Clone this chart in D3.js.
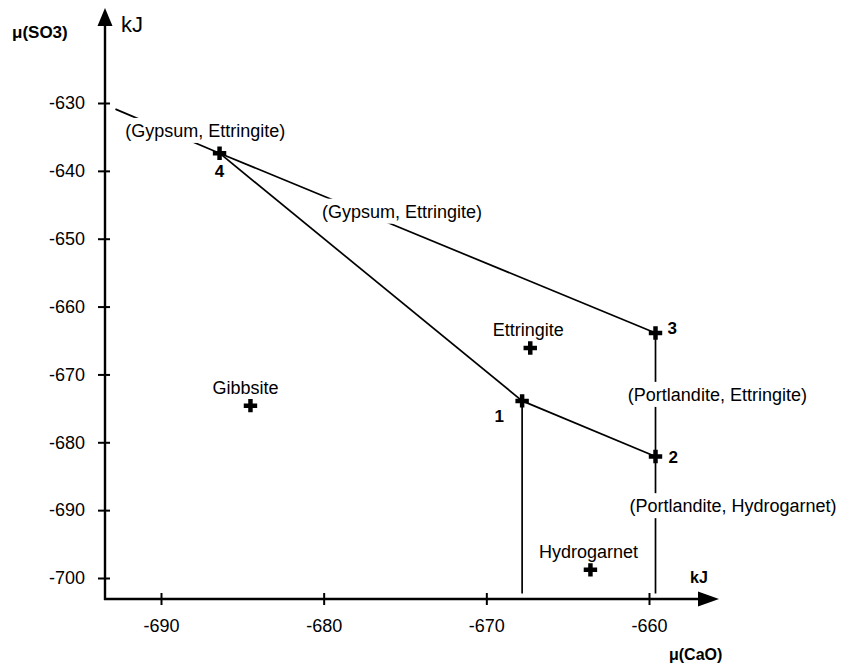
<!DOCTYPE html>
<html>
<head>
<meta charset="utf-8">
<script src="https://d3js.org/d3.v7.min.js"></script>
<style>
  body { margin: 0; background: #fff; }
  svg text { font-family: Arial, "Liberation Sans", sans-serif; fill: #000; }
</style>
</head>
<body>
<div id="chart"></div>
<script>
// invariant points
const pointNames = ["1", "2", "3", "4"];
const pointCaO = [-667.8, -659.6, -659.6, -686.4];
const pointSO3 = [-673.9, -682.1, -663.9, -637.4];

// stable phases
const phaseNames = ["Ettringite", "Gibbsite", "Hydrogarnet"];
const phaseCaO = [-667.3, -684.5, -663.6];
const phaseSO3 = [-666.1, -674.6, -698.8];

// phase boundaries (segments, start / end)
const lineCaO = [[-692.8, -686.4], [-686.4, -659.6], [-686.4, -667.8], [-667.8, -659.6], [-667.8, -667.8], [-659.6, -659.6]];
const lineSO3 = [[-630.9, -637.4], [-637.4, -663.9], [-637.4, -673.9], [-673.9, -682.1], [-673.9, -702.3], [-663.9, -702.3]];

// boundary labels (left edge, baseline)
const boundaryNames = ["(Gypsum, Ettringite)", "(Gypsum, Ettringite)", "(Portlandite, Ettringite)", "(Portlandite, Hydrogarnet)"];
const boundaryCaO = [-692.2, -680.1, -661.3, -661.2];
const boundarySO3 = [-635.0, -646.9, -673.9, -690.3];

const xTicks = [-690, -680, -670, -660];
const yTicks = [-700, -690, -680, -670, -660, -650, -640, -630];

const W = 842, H = 664;
const svg = d3.select("#chart").append("svg").attr("width", W).attr("height", H);

const x = d3.scaleLinear().domain([-690, -660]).range([161, 649]);
const y = d3.scaleLinear().domain([-700, -630]).range([578, 103]);
const ox = 105, oy = 599;

// axes
const gy = svg.append("g").attr("transform", "translate(" + ox + ",0)")
  .call(d3.axisLeft(y).tickValues(yTicks).tickSize(7).tickPadding(13).tickFormat(d => String(d)));
gy.select(".domain").remove();
gy.selectAll(".tick line").attr("x1", 5).attr("x2", -7).attr("stroke", "#000").attr("stroke-width", 2);
gy.selectAll(".tick text").attr("font-size", 18).attr("font-family", null);

const gx = svg.append("g").attr("transform", "translate(0," + oy + ")")
  .call(d3.axisBottom(x).tickValues(xTicks).tickSize(6).tickPadding(14).tickFormat(d => String(d)));
gx.select(".domain").remove();
gx.selectAll(".tick line").attr("y1", -6).attr("y2", 6).attr("stroke", "#000").attr("stroke-width", 2);
gx.selectAll(".tick text").attr("font-size", 18).attr("font-family", null);

svg.append("line").attr("x1", ox).attr("y1", oy + 1).attr("x2", ox).attr("y2", 22)
  .attr("stroke", "#000").attr("stroke-width", 2.4);
svg.append("line").attr("x1", ox - 1).attr("y1", oy).attr("x2", 700).attr("y2", oy)
  .attr("stroke", "#000").attr("stroke-width", 2.4);
svg.append("path").attr("d", "M" + ox + ",8L" + (ox - 7.5) + ",26L" + (ox + 7.5) + ",26Z").attr("fill", "#000");
svg.append("path").attr("d", "M719," + oy + "L698," + (oy - 7.5) + "L698," + (oy + 7.5) + "Z").attr("fill", "#000");

svg.append("text").attr("x", 12).attr("y", 38).attr("font-size", 17).attr("font-weight", "bold").text("μ(SO3)");
svg.append("text").attr("x", 121).attr("y", 32).attr("font-size", 22).text("kJ");
svg.append("text").attr("x", 690).attr("y", 583).attr("font-size", 16).attr("font-weight", "bold").text("kJ");
svg.append("text").attr("x", 669).attr("y", 660).attr("font-size", 16).attr("font-weight", "bold").text("μ(CaO)");

// boundary lines
svg.append("g").selectAll("line").data(d3.range(lineCaO.length)).join("line")
  .attr("x1", i => x(lineCaO[i][0])).attr("y1", i => y(lineSO3[i][0]))
  .attr("x2", i => x(lineCaO[i][1])).attr("y2", i => y(lineSO3[i][1]))
  .attr("stroke", "#000").attr("stroke-width", 1.7);

// boundary labels with white background
const bl = svg.append("g").selectAll("g").data(d3.range(boundaryNames.length)).join("g");
const blText = bl.append("text")
  .attr("x", i => x(boundaryCaO[i])).attr("y", i => y(boundarySO3[i]))
  .attr("font-size", 18).text(i => boundaryNames[i]);
blText.each(function () {
  const b = this.getBBox();
  d3.select(this.parentNode).insert("rect", "text")
    .attr("x", b.x - 2).attr("y", b.y - 3).attr("width", b.width + 4).attr("height", b.height + 5)
    .attr("fill", "#fff");
});

// phase markers
const cross = d3.symbol().type(d3.symbolCross).size(100);
svg.append("g").selectAll("path").data(d3.range(phaseNames.length)).join("path")
  .attr("d", cross).attr("fill", "#000")
  .attr("transform", i => "translate(" + x(phaseCaO[i]) + "," + y(phaseSO3[i]) + ")");
svg.append("g").selectAll("text").data(d3.range(phaseNames.length)).join("text")
  .attr("x", i => x(phaseCaO[i]) - (i === 1 ? 5 : 2)).attr("y", i => y(phaseSO3[i]) - 12)
  .attr("text-anchor", "middle").attr("font-size", 18).text(i => phaseNames[i]);

// invariant points
svg.append("g").selectAll("path").data(d3.range(pointNames.length)).join("path")
  .attr("d", cross).attr("fill", "#000")
  .attr("transform", i => "translate(" + x(pointCaO[i]) + "," + y(pointSO3[i]) + ")");
const labelOffset = [[-23, 21, "middle"], [13, 6, "start"], [12, 1, "start"], [0, 24, "middle"]];
svg.append("g").selectAll("text").data(d3.range(pointNames.length)).join("text")
  .attr("x", i => x(pointCaO[i]) + labelOffset[i][0]).attr("y", i => y(pointSO3[i]) + labelOffset[i][1])
  .attr("text-anchor", i => labelOffset[i][2])
  .attr("font-size", 17).attr("font-weight", "bold").text(i => pointNames[i]);
</script>
</body>
</html>
